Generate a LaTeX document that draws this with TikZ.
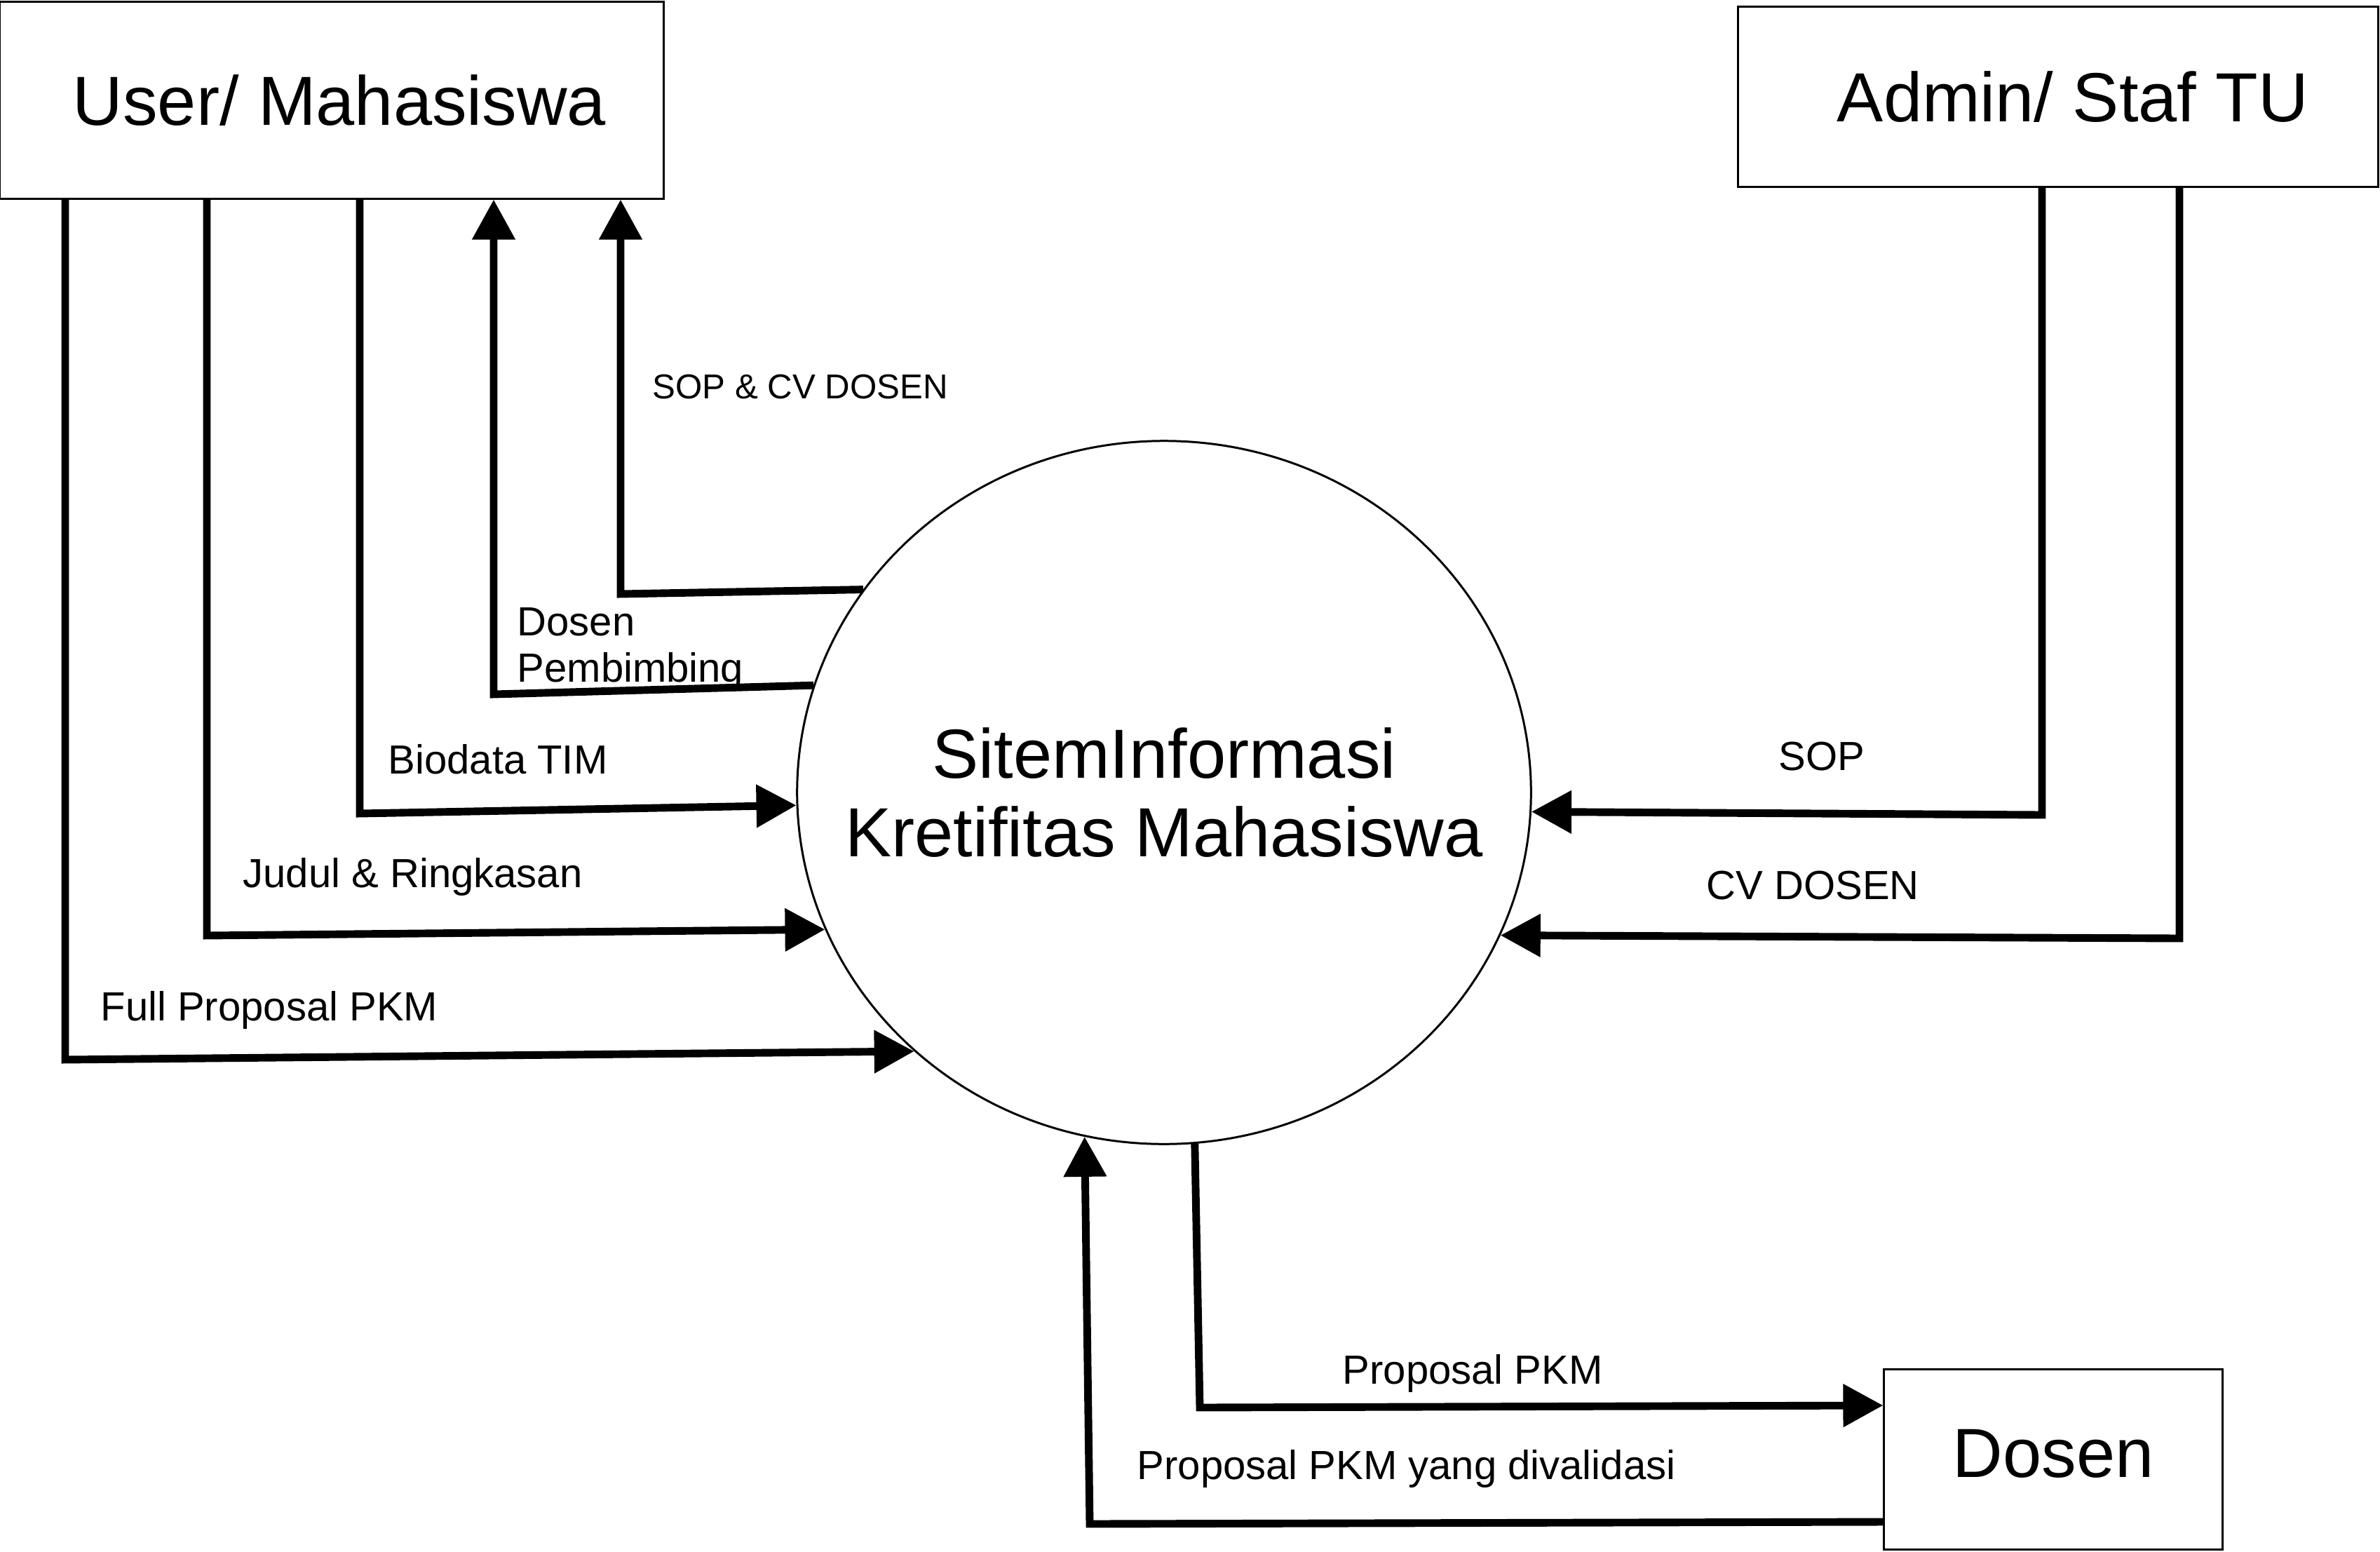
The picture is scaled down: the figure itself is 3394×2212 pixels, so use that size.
\documentclass[tikz,border=0pt]{standalone}
\usepackage{fontspec}
\setmainfont{Liberation Sans}
\usetikzlibrary{arrows.meta,shapes.geometric}
\newcommand{\entfont}{\fontsize{28.2pt}{32.1pt}\selectfont}
\newcommand{\lblfont}{\fontsize{16.5pt}{18.5pt}\selectfont}
\newcommand{\smlfont}{\fontsize{14pt}{16pt}\selectfont}

\begin{document}
\begin{tikzpicture}[x=0.01cm,y=-0.01cm,
    entity/.style={draw,line width=0.85pt,rectangle,inner sep=0pt,font=\entfont},
    process/.style={draw,line width=0.85pt,ellipse,inner sep=0pt,align=center,font=\entfont},
    flow/.style={line width=3.1pt,-{Triangle[length=16.2pt,width=16.8pt]}},
    lbl/.style={anchor=base west,inner sep=0pt,font=\lblfont}]
  \useasboundingbox (0,0) rectangle (3394,2212);
  % entities and process
  \node[entity,minimum width=9.46cm,minimum height=2.8cm] (user) at (473,143) {\hspace{0.22cm}User/ Mahasiswa};
  \node[entity,minimum width=9.12cm,minimum height=2.57cm] (admin) at (2935,138) {\hspace{0.42cm}Admin/ Staf TU};
  \node[entity,minimum width=4.82cm,minimum height=2.56cm] (dosen) at (2928,2081) {\raisebox{0.18cm}{Dosen}};
  \node[process,minimum width=10.46cm,minimum height=10.02cm] (sim) at (1660,1130)
    {\makebox[0pt]{SitemInformasi}\\\makebox[0pt]{Kretifitas Mahasiswa}};
  % labels
  \node[lbl,font=\smlfont] (lsopcv) at (930,568) {SOP \& CV DOSEN};
  \node[lbl,align=left] (lpemb) at (737,972) {Dosen\\Pembimbing};
  \node[lbl] (lbio) at (553,1103) {Biodata TIM};
  \node[lbl] (ljudul) at (346,1265) {Judul \& Ringkasan};
  \node[lbl] (lfull) at (143,1455) {Full Proposal PKM};
  \node[lbl] (lsop) at (2536,1098) {SOP};
  \node[lbl] (lcv) at (2433,1282) {CV DOSEN};
  \node[lbl] (lprop) at (1914,1973) {Proposal PKM};
  \node[lbl] (lvalid) at (1621,2109) {Proposal PKM yang divalidasi};
  % flows
  \begin{scope}
    \draw[flow] (513,0 |- user.south) -- (513,1160) -- (sim.182.6);
    \draw[flow] (295,0 |- user.south) -- (295,1334) -- (sim.202.1);
    \draw[flow] (93,0 |- user.south) -- (93,1511) -- (sim.226.6);
    \draw[flow] (sim.163.6) -- (704,990) -- (704,0 |- user.south);
    \draw[flow] (sim.146.4) -- (885,847) -- (885,0 |- user.south);
    \draw[flow] (2912,0 |- admin.south) -- (2912,1162) -- (sim.357.2);
    \draw[flow] (3108,0 |- admin.south) -- (3108,1338) -- (sim.337.0);
    \draw[flow] (sim.275.8) -- (1711,2007) -- (dosen.west |- 0,2004);
    \draw[flow] (dosen.west |- 0,2170) -- (1554,2173) -- (sim.257.9);
  \end{scope}
\end{tikzpicture}
\end{document}
